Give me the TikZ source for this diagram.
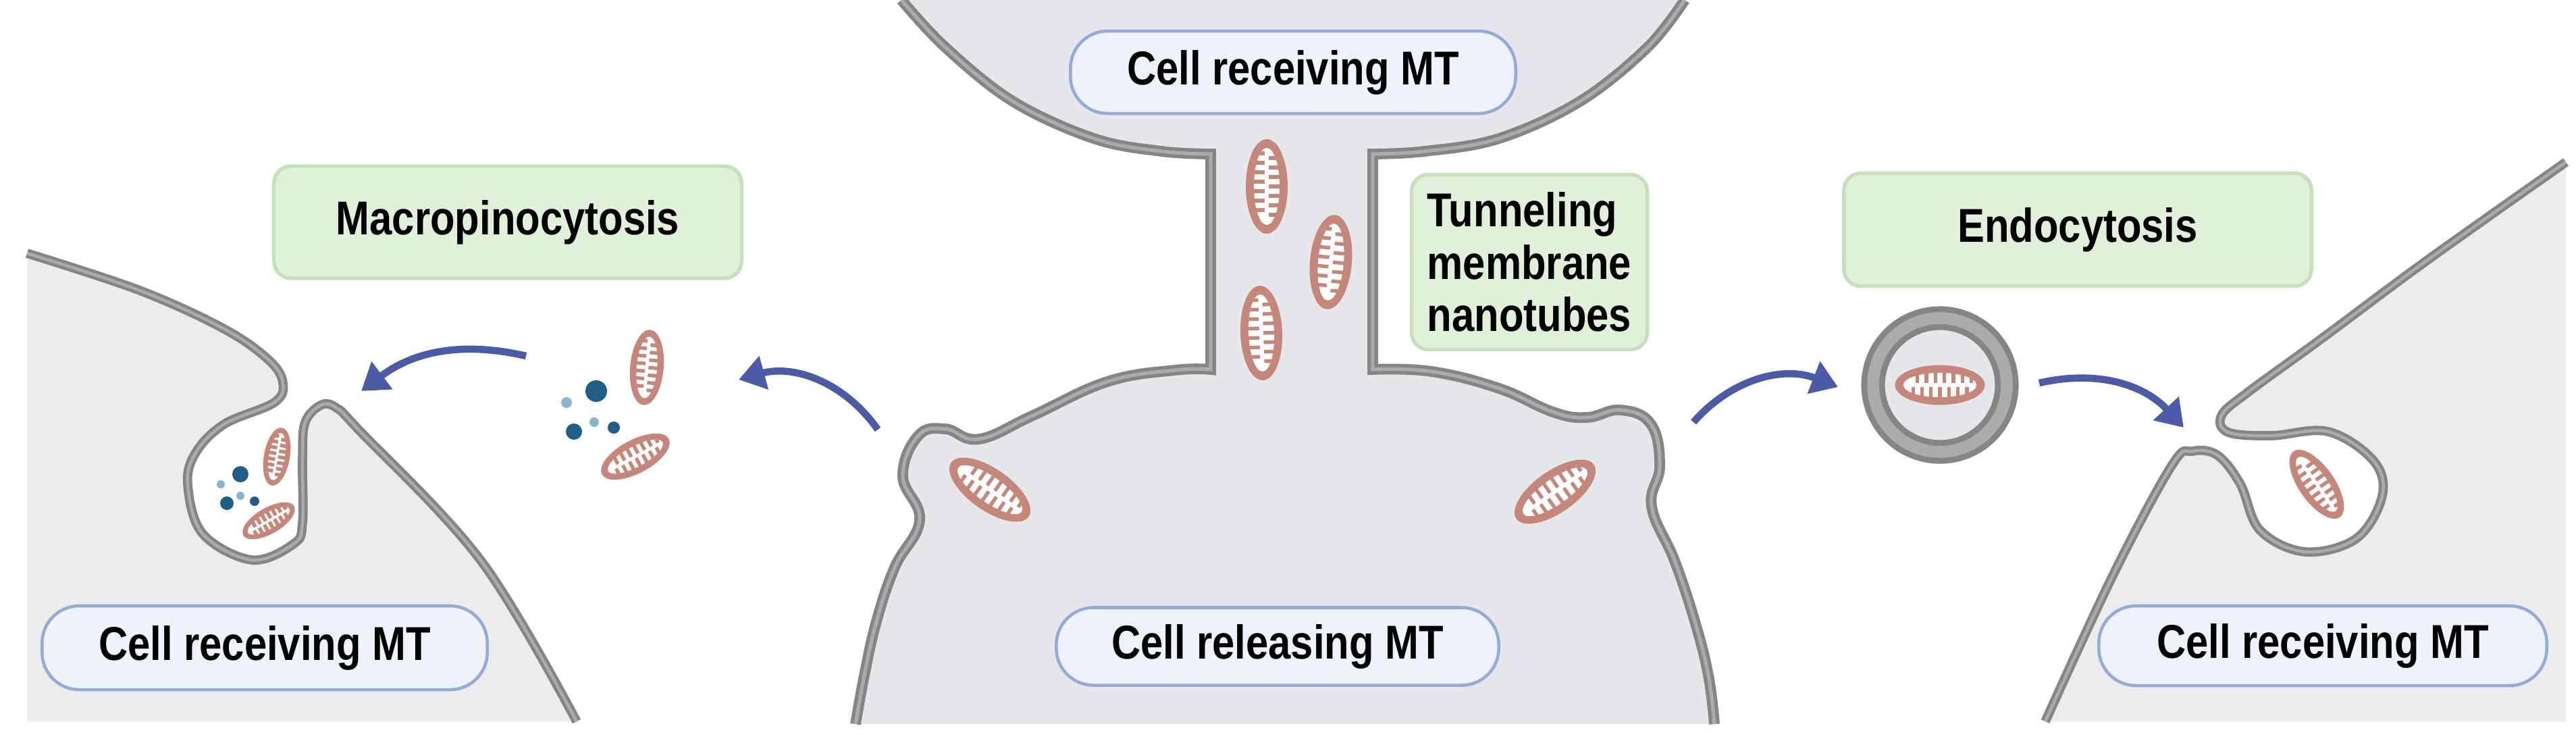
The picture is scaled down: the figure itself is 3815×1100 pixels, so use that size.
\documentclass[tikz,border=0pt]{standalone}
\usepackage{fontspec}
\setmainfont{Liberation Sans}[FakeStretch=0.85]
\usetikzlibrary{arrows.meta}
\definecolor{cellmid}{HTML}{E6E7EA}
\definecolor{cellside}{HTML}{ECECEC}
\definecolor{memd}{HTML}{858585}
\definecolor{meml}{HTML}{ABABAB}
\definecolor{mitoc}{HTML}{C5877A}
\definecolor{darkdot}{HTML}{1F5F85}
\definecolor{lightdot}{HTML}{86B6D0}
\definecolor{arrc}{HTML}{4B5BA6}
\definecolor{gfill}{HTML}{E0F1D9}
\definecolor{gdraw}{HTML}{C6E0BC}
\definecolor{bfill}{HTML}{EEF3FB}
\definecolor{bdraw}{HTML}{92ABD9}
\tikzset{
 mem/.style={draw=memd,line width=1.3pt,double=meml,double distance=1.3pt},
 memc/.style={draw=memd,line width=1.5pt,double=meml,double distance=1.5pt},
 arr/.style={draw=arrc,line width=3pt,-{Triangle[length=11pt,width=14pt]}},
 glab/.style={fill=gfill,draw=gdraw,line width=1.5pt,rounded corners=0.25cm,font=\bfseries\fontsize{20}{24}\selectfont,inner sep=0pt},
 blab/.style={fill=bfill,draw=bdraw,line width=1.3pt,rounded corners=0.55cm,font=\bfseries\fontsize{20}{24}\selectfont,inner sep=0pt},
 mito/.pic={
   \fill[mitoc] (0,0) ellipse (70 and 31);
   \fill[white] (0,0) ellipse (57 and 19);
   \foreach \x in {-42,-28,...,42}{
     \draw[mitoc,line width=1.5pt] (\x,20)--(\x,3);
     \draw[mitoc,line width=1.5pt] (\x+7,-20)--(\x+7,-3);}
 },
 dd/.style={fill=darkdot},
 ld/.style={fill=lightdot}
}
\begin{document}
\begin{tikzpicture}[x=0.01cm,y=-0.01cm]
\useasboundingbox[fill=white] (0,0) rectangle (3815,1100);
% ---------- left cell
\fill[cellside] plot[smooth,tension=0.6] coordinates {(40,375) (207,430) (332,487) (398,533) (419,567) (406,596) (332,628) (290,670) (278,717) (300,790) (373,829) (435,805) (448,774) (448,680) (452,625) (477,599) (500,605) (531,636) (713,831) (854,1068)} -- (40,1068) -- cycle;
\draw[mem] plot[smooth,tension=0.6] coordinates {(40,375) (207,430) (332,487) (398,533) (419,567) (406,596) (332,628) (290,670) (278,717) (300,790) (373,829) (435,805) (448,774) (448,680) (452,625) (477,599) (500,605) (531,636) (713,831) (854,1068)};
% ---------- right cell
\fill[cellside] plot[smooth,tension=0.6] coordinates {(3800,240) (3595,385) (3440,500) (3330,580) (3290,615) (3300,640) (3364,645) (3448,639) (3515,682) (3528,734) (3490,797) (3414,817) (3347,785) (3318,717) (3284,674) (3247,668) (3217,688) (3130,850) (3029,1068)} -- (3800,1068) -- cycle;
\draw[mem] plot[smooth,tension=0.6] coordinates {(3800,240) (3595,385) (3440,500) (3330,580) (3290,615) (3300,640) (3364,645) (3448,639) (3515,682) (3528,734) (3490,797) (3414,817) (3347,785) (3318,717) (3284,674) (3247,668) (3217,688) (3130,850) (3029,1068)};
% ---------- central cells
\fill[cellmid] plot[smooth,tension=0.7] coordinates {(1267,1072) (1280,1000) (1298,920) (1325,840) (1362,770) (1337,705) (1360,645) (1400,635) (1450,650) (1530,615) (1640,565) (1740,548) (1793,547)}
 -- plot[smooth,tension=0.6] coordinates {(1793,228) (1720,224) (1620,205) (1500,150) (1400,70) (1335,0)}
 -- plot[smooth,tension=0.6] coordinates {(2495,0) (2440,70) (2340,150) (2220,205) (2110,224) (2033,228)}
 -- plot[smooth,tension=0.7] coordinates {(2033,547) (2120,550) (2220,575) (2300,610) (2350,618) (2400,607) (2445,628) (2458,690) (2446,750) (2480,830) (2510,920) (2530,1000) (2539,1072)} -- cycle;
\draw[memc] plot[smooth,tension=0.7] coordinates {(1267,1072) (1280,1000) (1298,920) (1325,840) (1362,770) (1337,705) (1360,645) (1400,635) (1450,650) (1530,615) (1640,565) (1740,548) (1793,547)}
 -- plot[smooth,tension=0.6] coordinates {(1793,228) (1720,224) (1620,205) (1500,150) (1400,70) (1335,0)};
\draw[memc] plot[smooth,tension=0.6] coordinates {(2495,0) (2440,70) (2340,150) (2220,205) (2110,224) (2033,228)}
 -- plot[smooth,tension=0.7] coordinates {(2033,547) (2120,550) (2220,575) (2300,610) (2350,618) (2400,607) (2445,628) (2458,690) (2446,750) (2480,830) (2510,920) (2530,1000) (2539,1072)};
% ---------- vesicle
\draw[draw=memd,line width=2.5pt,double=meml,double distance=5pt,fill=cellmid] (2873,570) circle (99);
% ---------- mitochondria
\pic[rotate=90] at (1876,276) {mito};
\pic[rotate=85] at (1971,388) {mito};
\pic[rotate=92] at (1868,493) {mito};
\pic[rotate=-35] at (1466,725) {mito};
\pic[rotate=35] at (2303,728) {mito};
\pic[rotate=85,scale=0.8] at (958,544) {mito};
\pic[rotate=28,scale=0.8] at (941,676) {mito};
\pic[rotate=80,scale=0.62] at (410,676) {mito};
\pic[rotate=30,scale=0.62] at (398,771) {mito};
\pic[scale=0.95] at (2873,570) {mito};
\pic[rotate=-55,scale=0.85] at (3431,717) {mito};
% ---------- particles
\fill[dd] (883,579) circle (16); \fill[ld] (839,596) circle (8);
\fill[dd] (850,639) circle (12); \fill[ld] (880,625) circle (7);
\fill[dd] (909,633) circle (9);
\fill[dd] (356,702) circle (12); \fill[ld] (327,717) circle (6);
\fill[dd] (336,745) circle (10); \fill[ld] (356,734) circle (6);
\fill[dd] (377,742) circle (7);
% ---------- arrows
\coordinate (a1) at (779,527); \coordinate (a2) at (535,579);
\coordinate (b1) at (1300,636); \coordinate (b2) at (1094,562);
\coordinate (c1) at (2508,625); \coordinate (c2) at (2722,573);
\coordinate (d1) at (3020,567); \coordinate (d2) at (3234,633);
\draw[arr] (a1) to[bend right=25] (a2);
\draw[arr] (b1) to[bend right=35] (b2);
\draw[arr] (c1) to[bend left=35] (c2);
\draw[arr] (d1) to[bend left=30] (d2);
% ---------- labels
\node[glab,minimum width=6.92cm,minimum height=1.66cm] (mp) at (752,329) {Macropinocytosis};
\node[glab,minimum width=6.92cm,minimum height=1.67cm] (en) at (3077,340) {Endocytosis};
\node[glab,minimum width=3.49cm,minimum height=2.59cm,align=left,font=\bfseries\fontsize{20}{22}\selectfont] (tnt) at (2265,388) {Tunneling\\membrane\\nanotubes};
\node[blab,minimum width=6.59cm,minimum height=1.22cm] (top) at (1915,107) {Cell receiving MT};
\node[blab,minimum width=6.55cm,minimum height=1.15cm] (rel) at (1892,957) {Cell releasing MT};
\node[blab,minimum width=6.59cm,minimum height=1.24cm] (lft) at (392,959) {Cell receiving MT};
\node[blab,minimum width=6.63cm,minimum height=1.18cm] (rgt) at (3440,956) {Cell receiving MT};
\end{tikzpicture}
\end{document}
